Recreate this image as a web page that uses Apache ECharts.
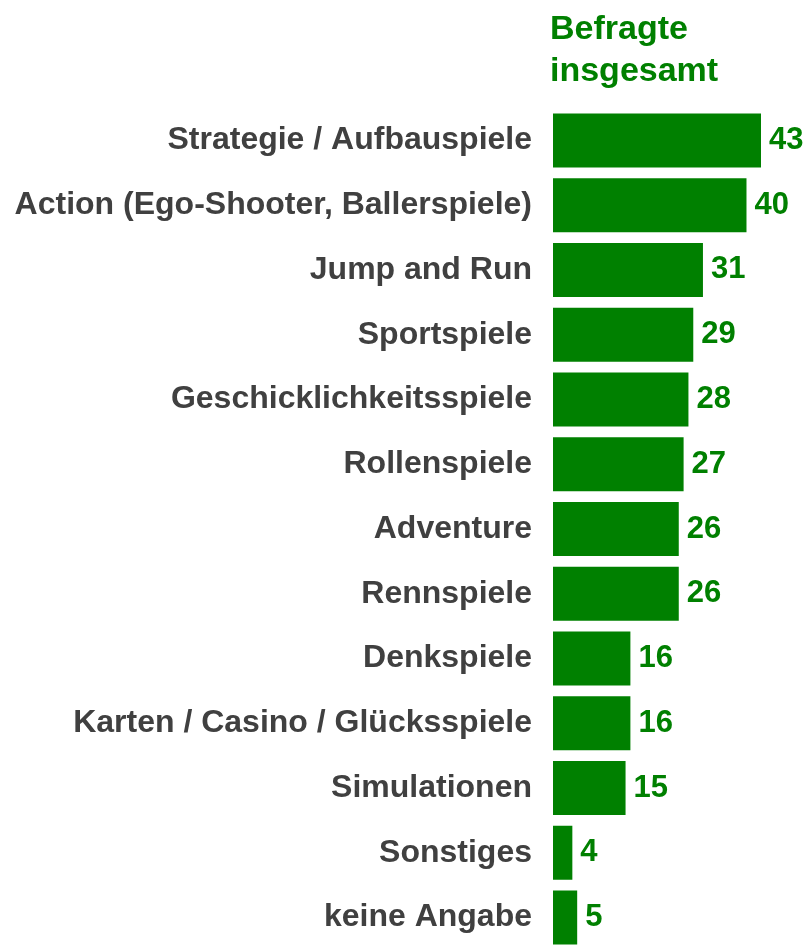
<!DOCTYPE html>
<html><head><meta charset="utf-8">
<script src="https://cdn.jsdelivr.net/npm/echarts@6/dist/echarts.min.js"></script>
<style>html,body{margin:0;padding:0;background:#fff}#c{width:810px;height:950px}</style>
</head><body><div id="c"></div>
<script>
const categories = ["Strategie / Aufbauspiele","Action (Ego-Shooter, Ballerspiele)","Jump and Run","Sportspiele","Geschicklichkeitsspiele","Rollenspiele","Adventure","Rennspiele","Denkspiele","Karten / Casino / Glücksspiele","Simulationen","Sonstiges","keine Angabe"];
const values = [43,40,31,29,28,27,26,26,16,16,15,4,5];
const seriesTitle = "Befragte\ninsgesamt";
const FONT = '"Liberation Sans", Arial, sans-serif';
const chart = echarts.init(document.getElementById('c'), null, {renderer:'canvas'});
chart.setOption({
  animation:false,
  title:{text:seriesTitle,left:545,top:4,textStyle:{fontFamily:FONT,fontWeight:'bold',fontSize:34,lineHeight:42,color:'#008000'}},
  grid:{left:553,width:208,top:108,height:853,containLabel:false},
  xAxis:{type:'value',min:0,max:43,show:false},
  yAxis:{type:'category',data:categories,inverse:true,axisLine:{show:false},axisTick:{show:false},
    axisLabel:{margin:21,fontFamily:FONT,fontWeight:'bold',fontSize:32,color:'#404040'}},
  series:[{type:'bar',data:values,barWidth:54,itemStyle:{color:'#008000'},
    label:{show:true,position:'right',distance:8,fontFamily:FONT,fontWeight:'bold',fontSize:31,color:'#008000'}}]
});
</script></body></html>
